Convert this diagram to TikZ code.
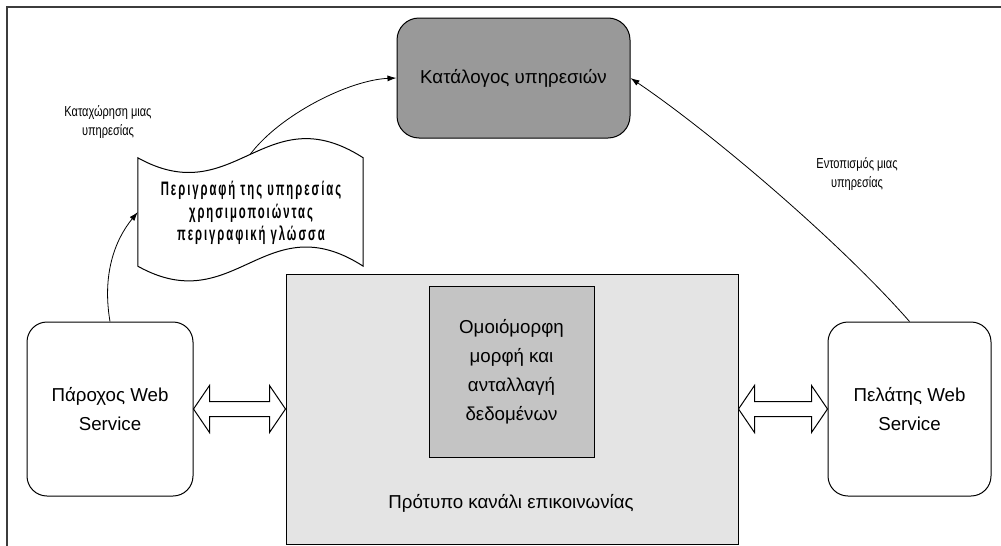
\documentclass[tikz,border=0pt]{standalone}
\usepackage{fontspec}
\setmainfont{Liberation Sans}
\newfontfamily\docfont[FakeStretch=0.58,LetterSpace=10]{Liberation Sans}
\newfontfamily\notefont[FakeStretch=0.76]{Liberation Sans}
\usetikzlibrary{arrows.meta,calc}

\definecolor{catgray}{RGB}{153,153,153}
\definecolor{innergray}{RGB}{196,196,196}
\definecolor{changray}{RGB}{228,228,228}
\definecolor{framegray}{RGB}{60,60,60}

\begin{document}
\begin{tikzpicture}[x=1pt,y=-1pt,
  mainfont/.style={font=\fontsize{18.7}{29}\selectfont},
  rbox/.style={draw=black, line width=1pt, rounded corners=20pt, inner sep=0pt,
    align=center, mainfont},
  sqbox/.style={draw=black, line width=1pt, inner sep=0pt, align=center, mainfont},
  note/.style={align=center, inner sep=0pt, font=\notefont\fontsize{14.5}{19}\selectfont},
  link/.style={draw=black, line width=0.8pt, -{Latex[length=9pt,width=6pt]}},
  docline/.style={draw=black, line width=1pt, fill=white},
  dblarrow/.style={draw=black, fill=white, line width=1pt, line join=miter,
    to path={-- ([shift={(16,-23.5)}]\tikztostart)
             -- ([shift={(16,-7.5)}]\tikztostart)
             -- ([shift={(-16,-7.5)}]\tikztotarget)
             -- ([shift={(-16,-23.5)}]\tikztotarget)
             -- (\tikztotarget)
             -- ([shift={(-16,23.5)}]\tikztotarget)
             -- ([shift={(-16,7.5)}]\tikztotarget)
             -- ([shift={(16,7.5)}]\tikztostart)
             -- ([shift={(16,23.5)}]\tikztostart)
             -- cycle}}
]
\useasboundingbox (0,0) rectangle (1001,546);
\fill[white] (0,0) rectangle (1001,546);

% page frame
\draw[framegray, line width=1.4pt] (7,546) -- (7,7) -- (1001,7);

% service directory
\node[rbox, fill=catgray, rounded corners=22pt, minimum width=233, minimum height=120]
  (cat) at (513.5,78) {Κατάλογος υπηρεσιών};

% communication channel with the data format box inside
\node[sqbox, fill=changray, minimum width=452, minimum height=270] (chan) at (512,409) {};
\node[sqbox, fill=innergray, minimum width=165, minimum height=171] (inner) at (511.5,371.5)
  {Ομοιόμορφη\\μορφή και\\ανταλλαγή\\δεδομένων};
\node[mainfont, inner sep=0pt] (chanlabel) at (511,503) {Πρότυπο κανάλι επικοινωνίας};

% provider and client
\node[rbox, fill=white, minimum width=166, minimum height=174] (prov) at (110,409)
  {Πάροχος Web\\Service};
\node[rbox, fill=white, minimum width=163, minimum height=174] (cli) at (909.5,409)
  {Πελάτης Web\\Service};

% service description document
\node[inner sep=0pt, minimum width=225, minimum height=108] (doc) at (250.5,212) {};
\draw[docline] (doc.north west) .. controls +(97,54) and +(-98,-63) .. (doc.north east)
  -- (doc.south east) .. controls +(-98,-63) and +(97,54) .. (doc.south west) -- cycle;
\path (doc.north west) .. controls +(97,54) and +(-98,-63) .. (doc.north east)
  coordinate[pos=0.5] (doctop);
\node[align=center, inner sep=0pt, font=\docfont\bfseries\fontsize{19.5}{22.5}\selectfont]
  (doctext) at (251,213) {Περιγραφή της υπηρεσίας\\χρησιμοποιώντας\\περιγραφική γλώσσα};

% data exchange arrows
\draw[dblarrow] (prov.east) to (chan.west);
\draw[dblarrow] (chan.east) to (cli.west);

% publishing and discovery
\draw[link] (prov.north) .. controls +(-8,-47) and +(-23,28) .. (doc.west);
\draw[link] (doctop) .. controls +(30,-40) and +(-47,2) .. (cat.west);
\draw[link] (cli.north) .. controls +(-70,-80) and +(80,54) .. (cat.east);

\node[note] (regnote) at (108,122) {Καταχώρηση μιας\\υπηρεσίας};
\node[note] (findnote) at (857,174) {Εντοπισμός μιας\\υπηρεσίας};
\end{tikzpicture}
\end{document}
